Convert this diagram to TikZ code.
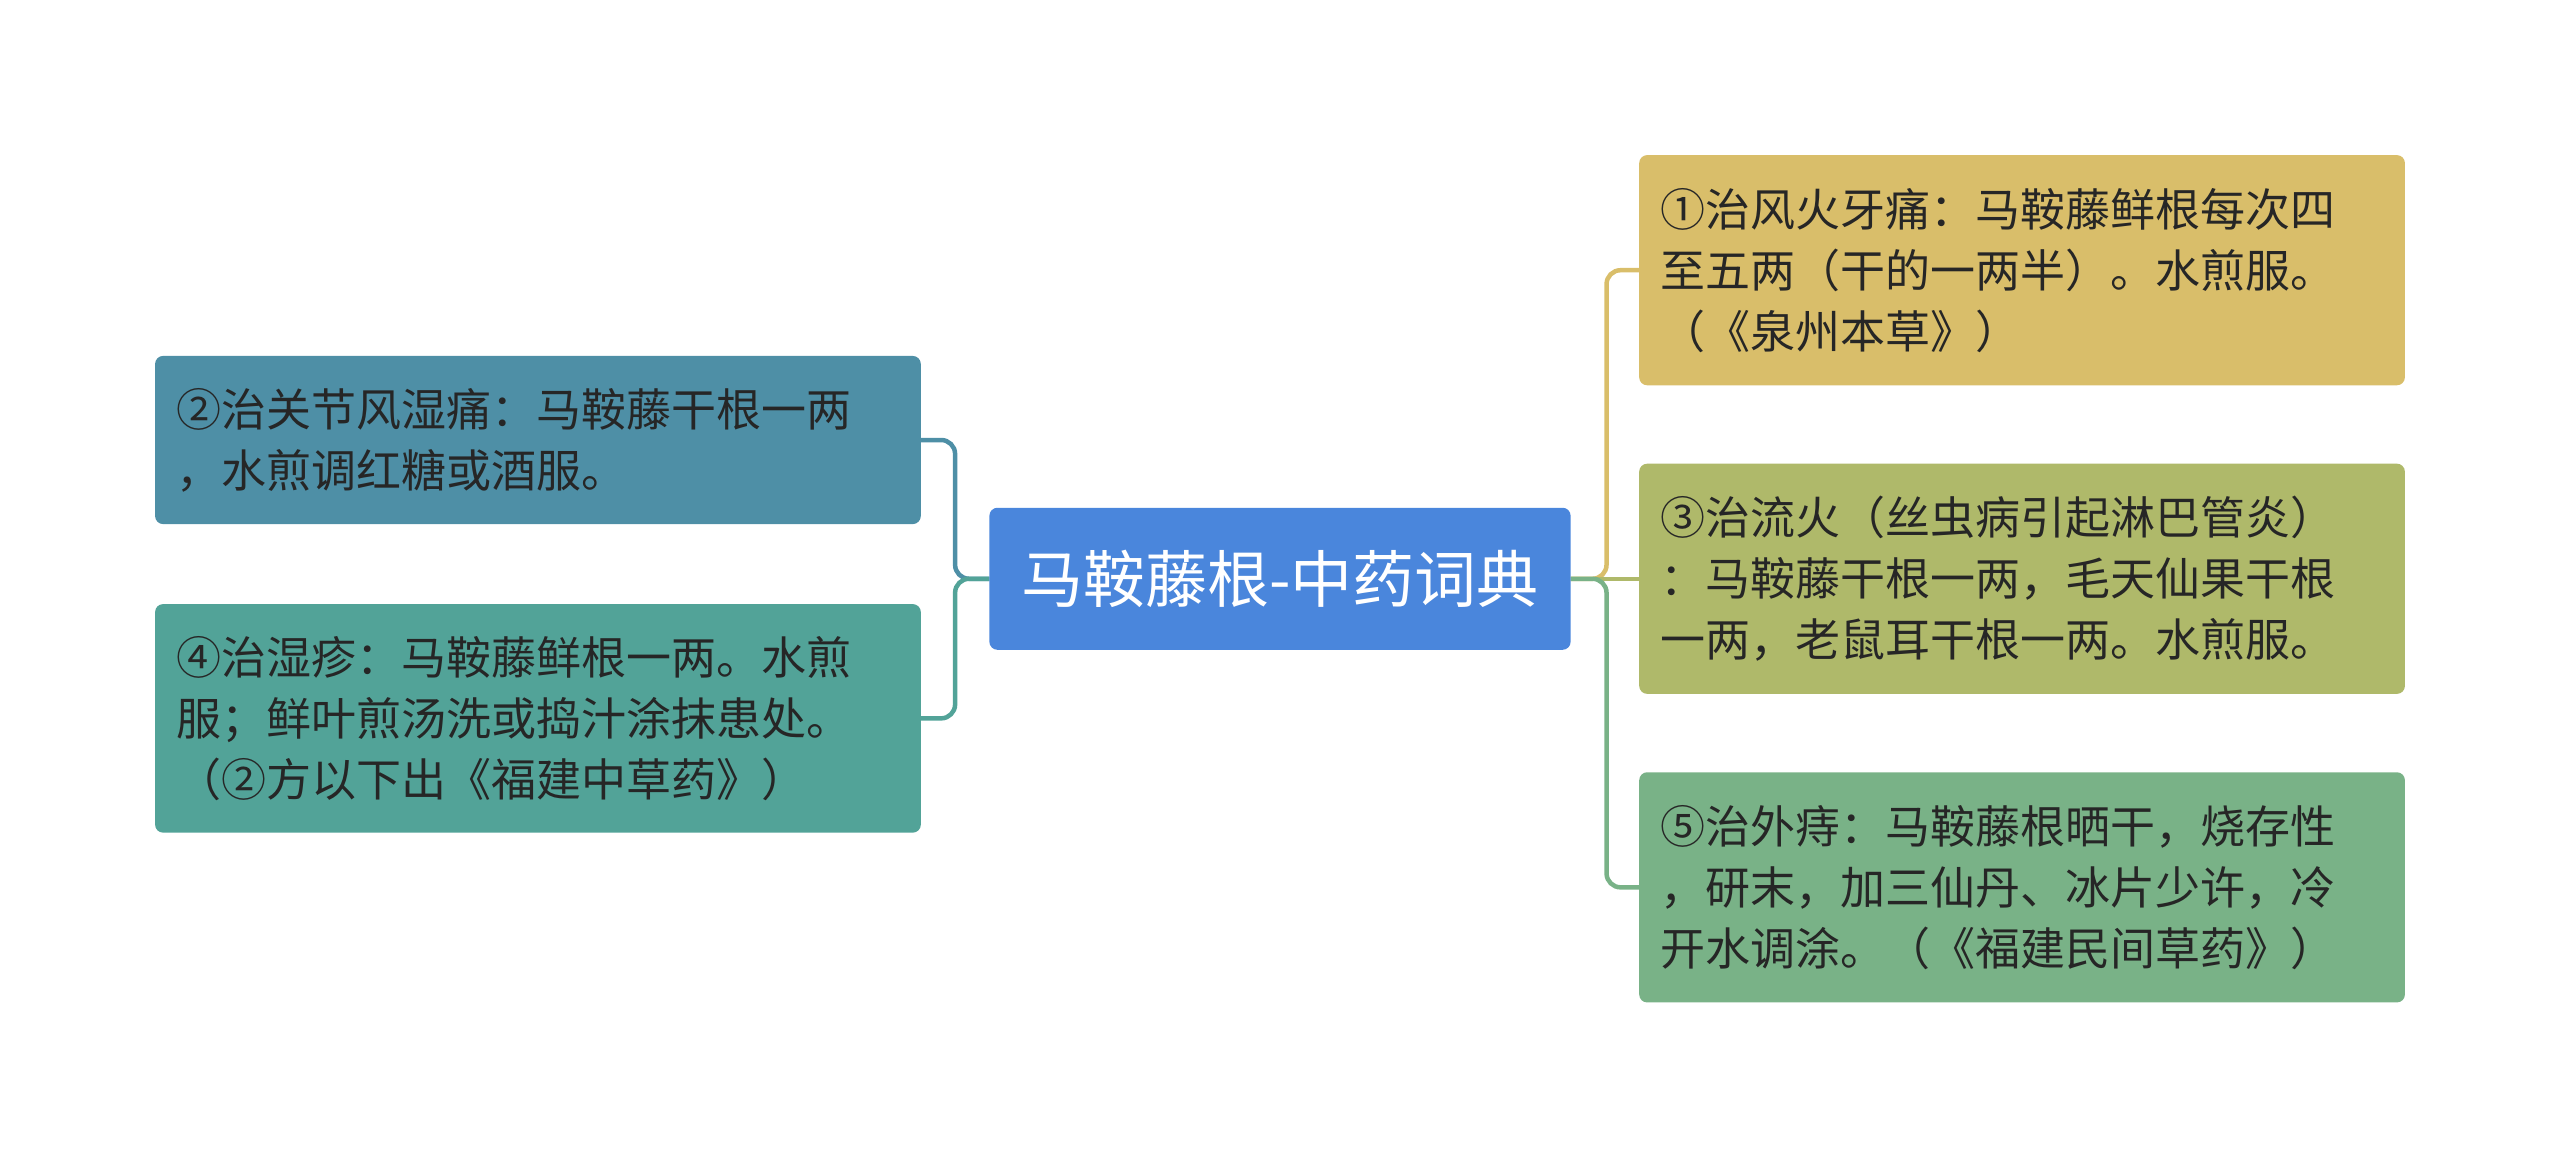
\documentclass[tikz,border=0pt]{standalone}
\usepackage{fontspec}
\setmainfont{Noto Sans CJK SC}
\begin{document}
\begin{tikzpicture}[x=1.6327pt,y=-1.6327pt,
 txt/.style={anchor=west,align=left,inner sep=0pt,font=\fontsize{45}{61}\selectfont,text=black!85},
 conn/.style={line width=4.5pt,rounded corners=14pt}]
\useasboundingbox (0,0) rectangle (1568,710);
\definecolor{cb}{HTML}{4A86DC}
\definecolor{l1}{HTML}{4E8FA6}
\definecolor{l2}{HTML}{52A398}
\definecolor{r1}{HTML}{D9BE6A}
\definecolor{r2}{HTML}{AFB96A}
\definecolor{r3}{HTML}{79B287}
% connectors
\coordinate (cl) at (606,354.5); \coordinate (cr) at (962,354.5);
\coordinate (a) at (564,269.5); \coordinate (b) at (564,440);
\coordinate (d) at (1004,165.5); \coordinate (e) at (1004,354.5); \coordinate (f) at (1004,543.5);
\draw[conn,l1] (cl) -- (585,354.5) -- (585,269.5) -- (a);
\draw[conn,l2] (cl) -- (585,354.5) -- (585,440) -- (b);
\draw[conn,r1] (cr) -- (984,354.5) -- (984,165.5) -- (d);
\draw[conn,r2] (cr) -- (e);
\draw[conn,r3] (cr) -- (984,354.5) -- (984,543.5) -- (f);
% boxes
\fill[cb,rounded corners=8pt] (606,311) rectangle (962,398);
\node[font=\fontsize{62}{66}\selectfont,text=white] (c) at (784,354.5) {马鞍藤根-中药词典};
\fill[l1,rounded corners=8pt] (95,218) rectangle (564,321);
\fill[l2,rounded corners=8pt] (95,370) rectangle (564,510);
\fill[r1,rounded corners=8pt] (1004,95) rectangle (1473,236);
\fill[r2,rounded corners=8pt] (1004,284) rectangle (1473,425);
\fill[r3,rounded corners=8pt] (1004,473) rectangle (1473,614);
\node[txt] (ta) at (108,269.5) {②治关节风湿痛：马鞍藤干根一两\\，水煎调红糖或酒服。};
\node[txt] (tb) at (108,440) {④治湿疹：马鞍藤鲜根一两。水煎\\服；鲜叶煎汤洗或捣汁涂抹患处。\\（②方以下出《福建中草药》）};
\node[txt] (td) at (1017,165.5) {①治风火牙痛：马鞍藤鲜根每次四\\至五两（干的一两半）。水煎服。\\（《泉州本草》）};
\node[txt] (te) at (1017,354.5) {③治流火（丝虫病引起淋巴管炎）\\：马鞍藤干根一两，毛天仙果干根\\一两，老鼠耳干根一两。水煎服。};
\node[txt] (tf) at (1017,543.5) {⑤治外痔：马鞍藤根晒干，烧存性\\，研末，加三仙丹、冰片少许，冷\\开水调涂。（《福建民间草药》）};
\end{tikzpicture}
\end{document}
